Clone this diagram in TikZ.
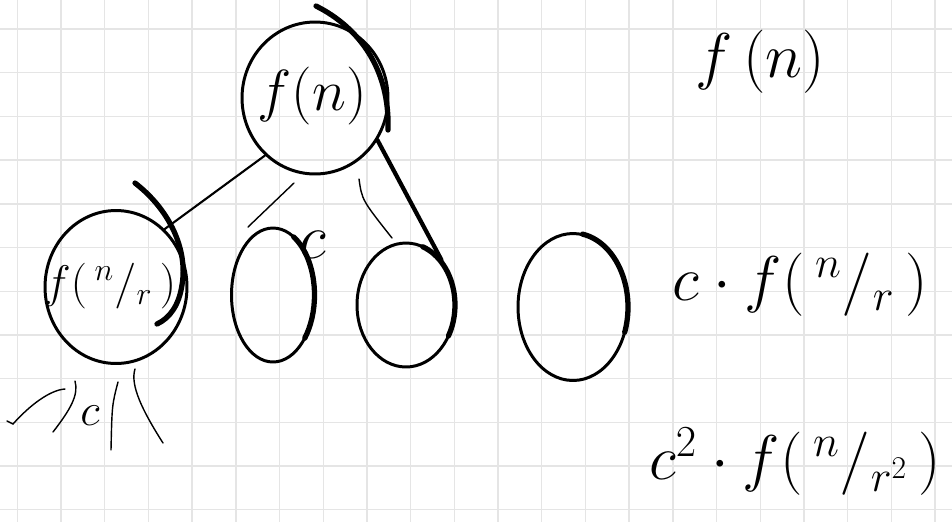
\RequirePackage{fix-cm}
\documentclass[tikz,border=0pt]{standalone}
\usetikzlibrary{shapes.geometric}
\tikzset{
  pen/.style={black, line width=1.7pt},
  heavy/.style={black, line width=3pt, line cap=round},
  fine/.style={black, line width=0.8pt, line cap=round},
  bubble/.style={ellipse, draw, pen, inner sep=0pt},
  big/.style={font=\fontsize{36}{40}\selectfont},
}
\begin{document}
\begin{tikzpicture}[x=0.02cm, y=-0.02cm]
    % paper and grid
    \fill[white] (0,0) rectangle (952,522);
    \useasboundingbox (0,0) rectangle (952,522);
    \foreach \x in {0,...,21} {
        \draw[gray!20, line width=0.8pt] (17.3+43.7*\x,0) -- (17.3+43.7*\x,522);
    }
    \foreach \y in {0,...,11} {
        \draw[gray!20, line width=0.8pt] (0,29+43.7*\y) -- (952,29+43.7*\y);
    }

    % recursion tree
    \node[bubble, minimum width=2.92cm, minimum height=3.04cm] (root) at (315,98) {};
    \node[font=\fontsize{33}{36}\selectfont] (rootlbl) at (312,96) {$f(n)$};
    \node[bubble, minimum width=2.84cm, minimum height=3.06cm] (left) at (116,287) {};
    \node[font=\fontsize{26}{30}\selectfont] (leftlbl) at (110,286) {$f(\,{}^{n}/{}_{r}\,)$};
    \node[bubble, minimum width=1.66cm, minimum height=2.68cm] (mid1) at (273,295) {};
    \node[bubble, minimum width=1.96cm, minimum height=2.48cm] (mid2) at (406,305) {};
    \node[bubble, minimum width=2.2cm, minimum height=2.94cm] (far) at (573,307) {};

    % heavy strokes
    \draw[heavy] (316,6) .. controls (360,28) and (390,70) .. (388,130);
    \draw[heavy] (135,183) .. controls (170,210) and (188,250) .. (182,285)
                 .. controls (179,305) and (170,318) .. (157,324);
    \draw[heavy] ([shift={(-60:41.5 and 67)}]mid1.center) arc[start angle=-60, end angle=40, x radius=41.5, y radius=67];
    \draw[heavy] ([shift={(-70:49 and 62)}]mid2.center) arc[start angle=-70, end angle=30, x radius=49, y radius=62];
    \draw[heavy] ([shift={(-80:55 and 74)}]far.center) arc[start angle=-80, end angle=20, x radius=55, y radius=74];

    % edges
    \draw[fine, line width=1.2pt] (root.229) -- (left.50);
    \draw[heavy, line width=2.4pt] (root.-34) -- (mid2.52);
    \coordinate (h1a) at (294,183);
    \coordinate (h1b) at (248,227);
    \coordinate (h2a) at (359,179);
    \coordinate (h2b) at (392,238);
    \draw[fine] (h1a) -- (h1b);
    \draw[fine] (h2a) .. controls (362,200) .. (h2b);
    \node[big] (cost) at (313,245) {$c$};

    % next level under the left child
    \draw[fine] (7,421) -- (13,424) .. controls (30,405) and (50,390) .. (65,389);
    \draw[fine] (75,381) .. controls (79,395) and (70,410) .. (53,432);
    \node[font=\fontsize{26}{30}\selectfont] (cost2) at (90,416) {$c$};
    \draw[fine] (118,382) .. controls (112,405) .. (111,450);
    \draw[fine] (135,369) .. controls (130,385) and (142,410) .. (163,443);

    % level sums
    \node[big] (sum0) at (760,62) {$f\,(n)$};
    \node[big] (sum1) at (800,285) {$c\cdot f\bigl(\,{}^{n}/{}_{r}\,\bigr)$};
    \node[font=\fontsize{36}{40}\selectfont] (sum2) at (795,462) {$c^{2}\cdot f\bigl(\,{}^{n}/{}_{r^{2}}\,\bigr)$};
\end{tikzpicture}
\end{document}
